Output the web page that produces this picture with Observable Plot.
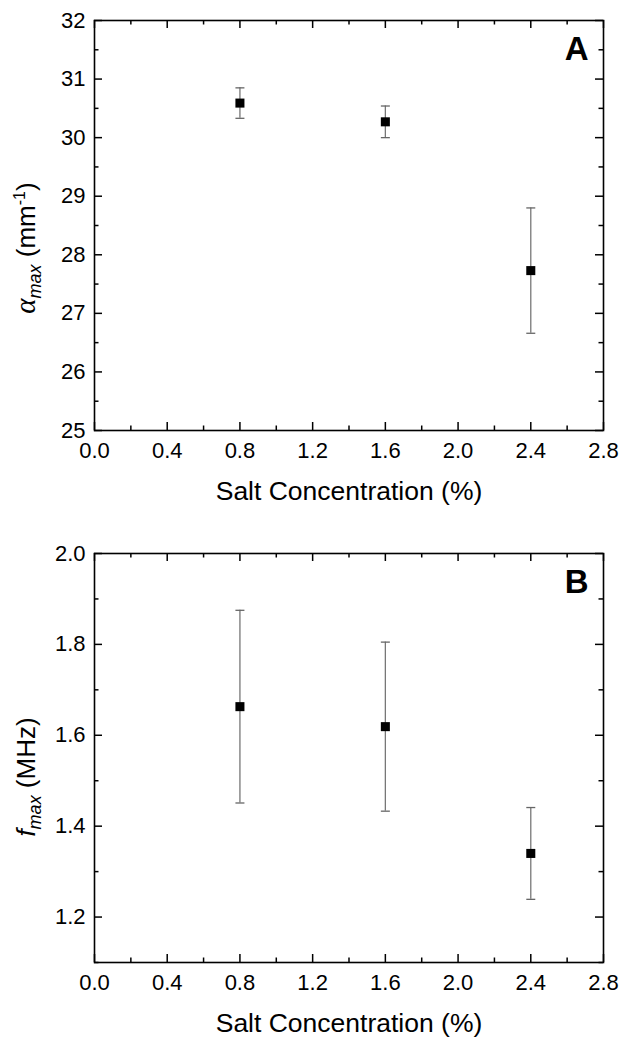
<!DOCTYPE html>
<html><head><meta charset="utf-8">
<script src="https://cdn.jsdelivr.net/npm/d3@7"></script>
<script src="https://cdn.jsdelivr.net/npm/@observablehq/plot@0.6"></script>
<style>
body{margin:0;background:#fff;}
#chart{width:622px;}
#chart svg{display:block;}
</style></head><body><div id="chart"></div>
<script>
const salt = [0.8, 1.6, 2.4];
const alphaMax = [30.59, 30.27, 27.73];
const alphaErr = [0.26, 0.27, 1.07];
const fMax = [1.663, 1.619, 1.340];
const fErr = [0.212, 0.186, 0.101];
const xMajor = [0, 0.4, 0.8, 1.2, 1.6, 2.0, 2.4, 2.8];
const xMinor = [0.2, 0.6, 1.0, 1.4, 1.8, 2.2, 2.6];
const yMajorA = [25, 26, 27, 28, 29, 30, 31, 32];
const yMinorA = [25.5, 26.5, 27.5, 28.5, 29.5, 30.5, 31.5];
const yMajorB = [1.2, 1.4, 1.6, 1.8, 2.0];
const yMinorB = [1.1, 1.3, 1.5, 1.7, 1.9];
const xTitle = "Salt Concentration (%)";

const FONT = "'Liberation Sans', Arial, Helvetica, sans-serif";
const W = 622, ML = 94, MR = 19;
const plotW = W - ML - MR;

const cap = {draw(ctx) { ctx.moveTo(-4.5, 0); ctx.lineTo(4.5, 0); }};

function panel({values, errs, yDomain, yMajor, yMinor, yFormat, height, marginTop, marginBottom, letter}) {
  const rows = salt.map((s, i) => ({salt: s, value: values[i], lo: values[i] - errs[i], hi: values[i] + errs[i]}));
  const plotH = height - marginTop - marginBottom;
  const tk = {stroke: "black", strokeWidth: 1.5};
  return Plot.plot({
    width: W, height, marginLeft: ML, marginRight: MR, marginTop, marginBottom,
    style: {fontSize: "22px", fontFamily: FONT, color: "black", background: "white", overflow: "visible"},
    x: {domain: [0, 2.8]},
    y: {domain: yDomain},
    marks: [
      Plot.tickX(xMajor, {x: d => d, insetTop: plotH - 8, ...tk}),
      Plot.tickX(xMajor, {x: d => d, insetBottom: plotH - 8, ...tk}),
      Plot.tickX(xMinor, {x: d => d, insetTop: plotH - 4.5, ...tk}),
      Plot.tickX(xMinor, {x: d => d, insetBottom: plotH - 4.5, ...tk}),
      Plot.tickY(yMajor, {y: d => d, insetRight: plotW - 8, ...tk}),
      Plot.tickY(yMajor, {y: d => d, insetLeft: plotW - 8, ...tk}),
      Plot.tickY(yMinor, {y: d => d, insetRight: plotW - 4.5, ...tk}),
      Plot.tickY(yMinor, {y: d => d, insetLeft: plotW - 4.5, ...tk}),
      Plot.frame({stroke: "black", strokeWidth: 1.6}),
      Plot.axisX(xMajor, {tickSize: 0, tickPadding: 12, tickFormat: d3.format(".1f"), label: null, fill: "black"}),
      Plot.axisY(yMajor, {tickSize: 0, tickPadding: 9, tickFormat: yFormat, label: null, fill: "black"}),
      Plot.ruleX(rows, {x: "salt", y1: "lo", y2: "hi", stroke: "#777", strokeWidth: 1.3}),
      Plot.dot(rows, {x: "salt", y: "hi", symbol: cap, r: 3, stroke: "#666", strokeWidth: 1.3}),
      Plot.dot(rows, {x: "salt", y: "lo", symbol: cap, r: 3, stroke: "#666", strokeWidth: 1.3}),
      Plot.dot(rows, {x: "salt", y: "value", symbol: "square", r: 5.1, fill: "black", stroke: null}),
      Plot.text([letter], {frameAnchor: "top-right", dx: -15, dy: 16, lineAnchor: "top", textAnchor: "end", fontSize: 33, fontWeight: "bold", fill: "black"}),
      Plot.text([xTitle], {frameAnchor: "bottom", dy: 69, lineAnchor: "bottom", fontSize: 26.5, fill: "black"})
    ]
  });
}

const chart = document.getElementById("chart");

const A = panel({values: alphaMax, errs: alphaErr, yDomain: [25, 32], yMajor: yMajorA, yMinor: yMinorA,
  yFormat: d3.format("d"), height: 520, marginTop: 20, marginBottom: 90, letter: "A"});
const B = panel({values: fMax, errs: fErr, yDomain: [1.1, 2.0], yMajor: yMajorB, yMinor: yMinorB,
  yFormat: d3.format(".1f"), height: 518, marginTop: 33, marginBottom: 76, letter: "B"});
chart.appendChild(A);
chart.appendChild(B);

function yLabel(svgNode, cx, cy, parts) {
  const t = d3.select(svgNode).append("text")
    .attr("transform", `translate(${cx},${cy}) rotate(-90)`)
    .attr("text-anchor", "middle").attr("font-size", 26).attr("font-family", FONT).attr("fill", "black");
  for (const p of parts) {
    const s = t.append("tspan").text(p.text);
    if (p.italic) s.attr("font-style", "italic");
    if (p.size) s.attr("font-size", p.size);
    if (p.dy) s.attr("dy", p.dy);
    if (p.family) s.attr("font-family", p.family);
  }
}
yLabel(A, 35, 248, [
  {text: "α", italic: true, family: "'Liberation Serif', 'DejaVu Serif', serif", size: 29},
  {text: "max", italic: true, size: 18, dy: 6},
  {text: " (mm", dy: -6},
  {text: "-1", size: 16, dy: -10},
  {text: ")", dy: 10}
]);
yLabel(B, 35, 257, [
  {text: "f", italic: true},
  {text: "max", italic: true, size: 18, dy: 6},
  {text: " (MHz)", dy: -6}
]);
</script></body></html>
